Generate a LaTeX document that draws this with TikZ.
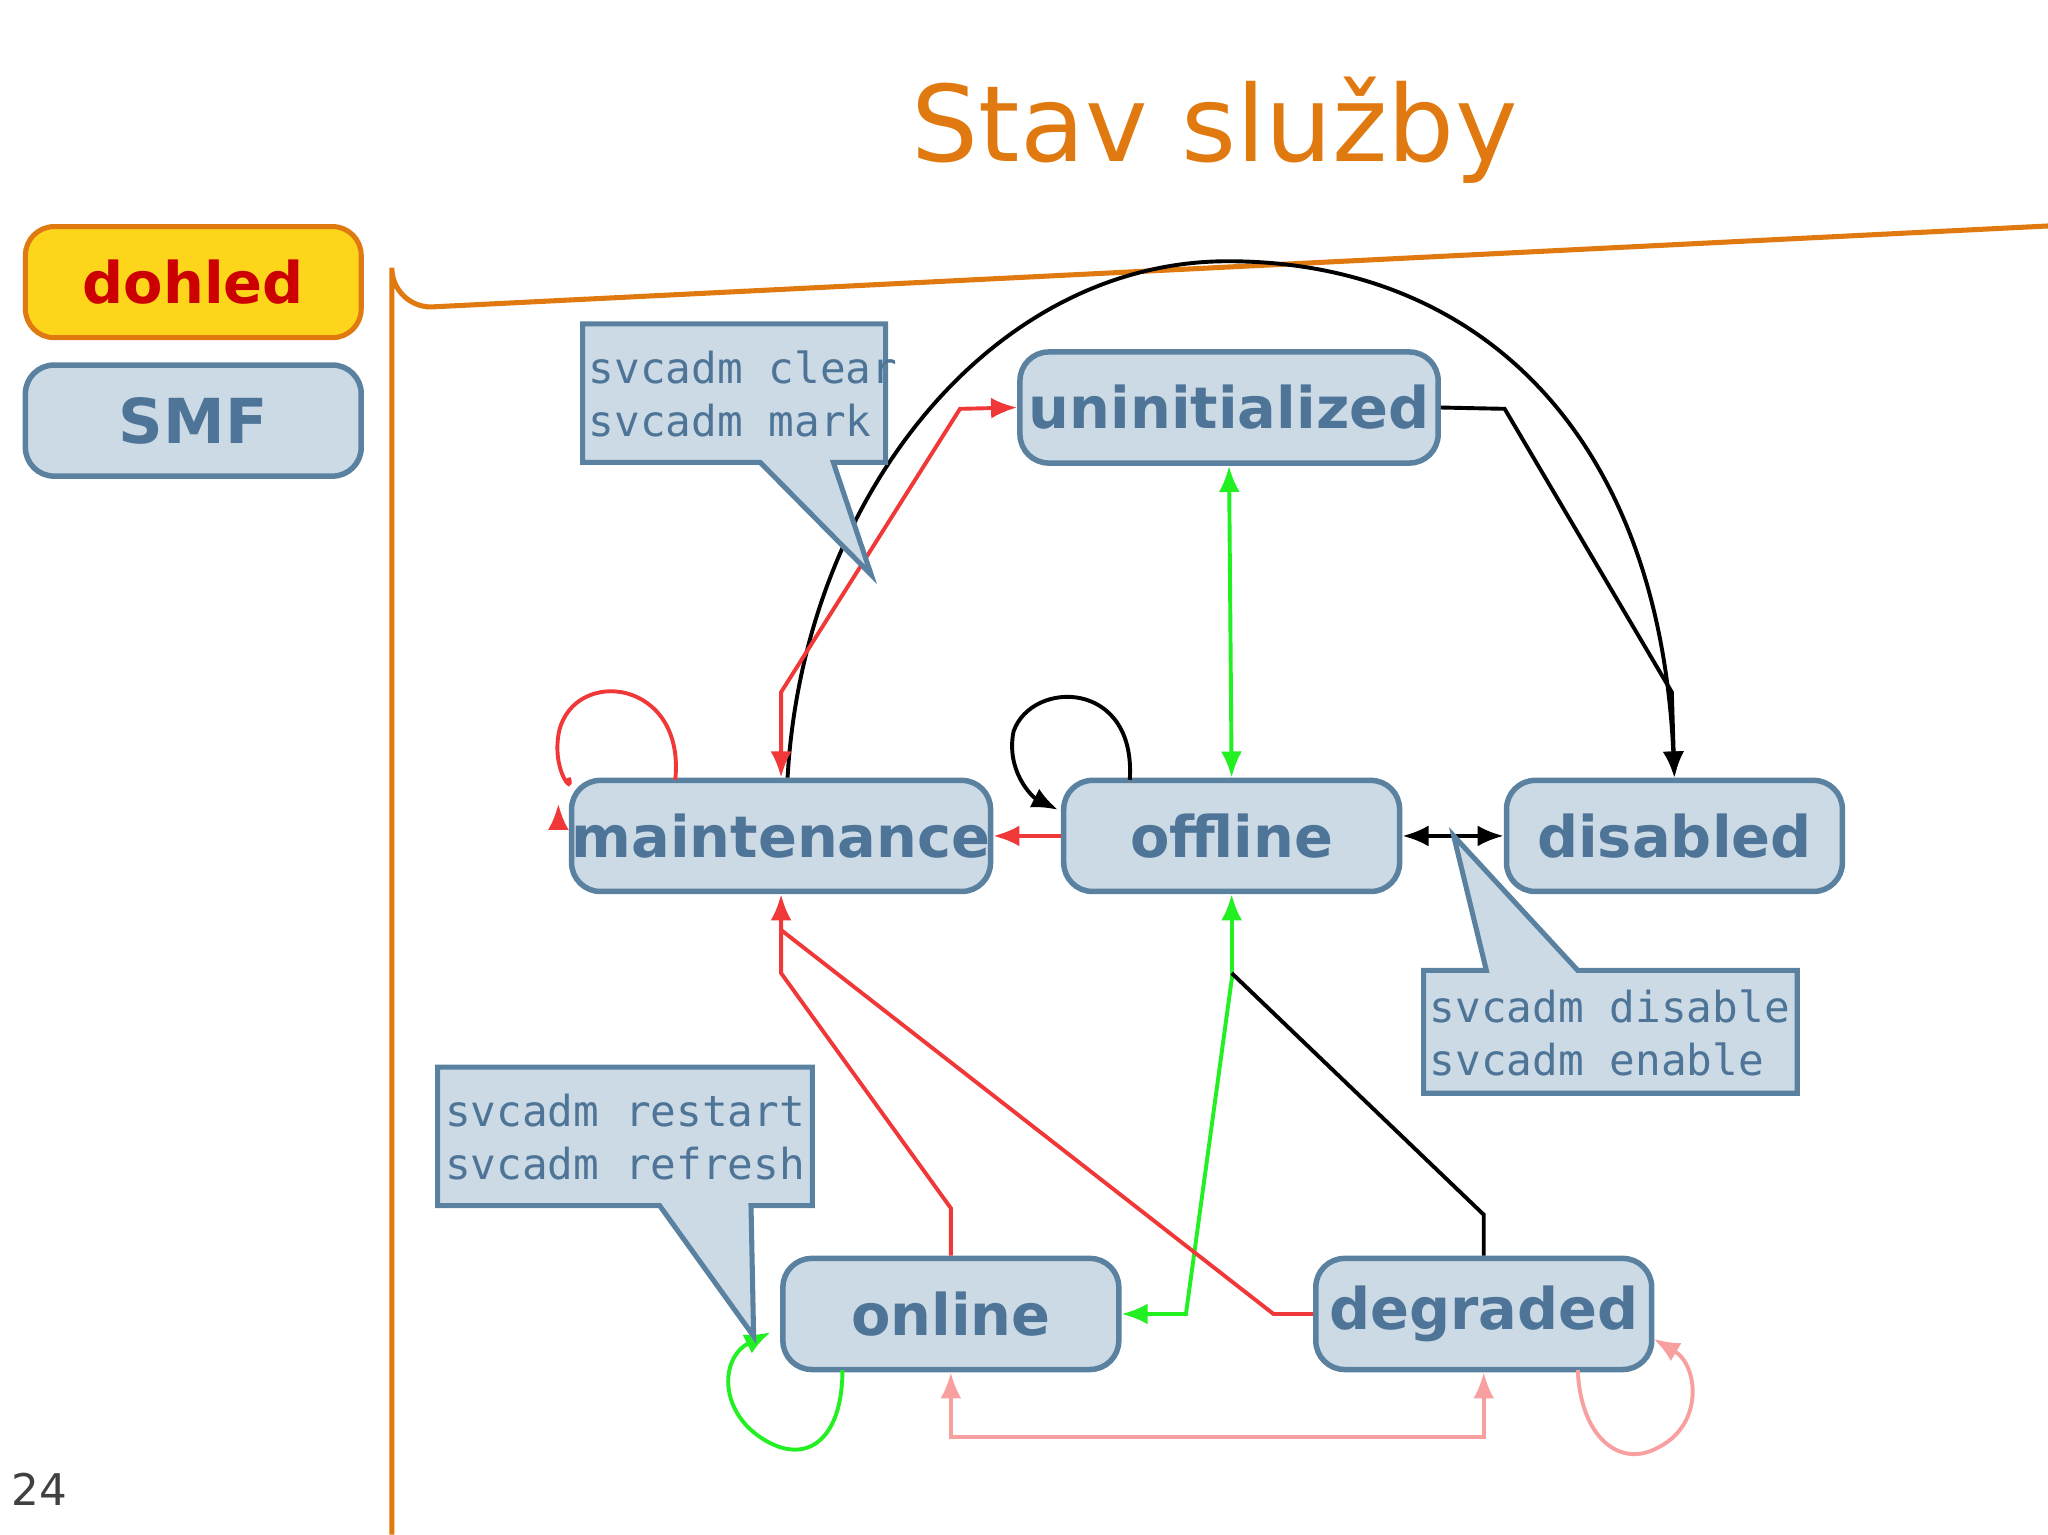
\documentclass[tikz,border=0pt]{standalone}
\usepackage{fontspec}
\setmainfont{DejaVu Sans}
\setmonofont{DejaVu Sans Mono}
\usetikzlibrary{arrows.meta}
\definecolor{fr}{HTML}{E07A10}
\definecolor{nb}{HTML}{5A82A0}
\definecolor{nf}{HTML}{CCDAE5}
\definecolor{nt}{HTML}{4E7597}
\definecolor{rd}{HTML}{F03838}
\definecolor{gr}{HTML}{22F022}
\definecolor{pk}{HTML}{F8A0A0}
\tikzset{
 state/.style={draw=nb,fill=nf,line width=1.2pt,rounded corners=0.22cm,minimum width=2.57cm,minimum height=0.85cm,text=nt,font=\fontsize{12.5}{14}\selectfont\bfseries,inner sep=0pt},
 call/.style={draw=nb,fill=nf,line width=1.1pt},
 ctext/.style={text=nt,font=\ttfamily\fontsize{9.3}{11.5}\selectfont,align=left,anchor=north west,inner sep=0pt},
 ed/.style={line width=0.85pt,-{Latex[length=0.2cm,width=0.16cm]}},
 ed2/.style={line width=0.85pt,{Latex[length=0.2cm,width=0.16cm]}-{Latex[length=0.2cm,width=0.16cm]}},
}
\begin{document}
\begin{tikzpicture}[x=0.01cm,y=-0.01cm]
\useasboundingbox (0,0) rectangle (1568,1175);
\node[text=fr,font=\fontsize{23}{26}\selectfont] (title) at (930,100) {Stav služby};
\draw[fr,line width=1.1pt] (300,1175) -- (300,205) arc[start angle=180,end angle=90,radius=30] -- (1568,173);
\node[draw=fr,fill=yellow!70!orange!90,line width=1.1pt,rounded corners=0.22cm,minimum width=2.57cm,minimum height=0.85cm,text=red!80!black,font=\fontsize{12.5}{14}\selectfont\bfseries] (dohled) at (148,216) {dohled};
\node[state,font=\fontsize{13.5}{15}\selectfont\bfseries] (smf) at (148,322) {SMF};
\node[text=black!75,font=\fontsize{9.5}{11}\selectfont] (pg) at (30,1140) {24};

\node[state,minimum width=3.2cm] (un) at (941,312) {uninitialized};
\node[state] (ma) at (598,640) {maintenance};
\node[state] (of) at (943,640) {offline};
\node[state] (di) at (1282,640) {disabled};
\node[state] (on) at (728,1006) {online};
\node[state] (de) at (1136,1006) {degraded};

% black arc
\draw[ed] (ma.north) ++(5,0) .. controls (615,380) and (760,200) .. (940,200) .. controls (1130,200) and (1270,330) .. (di.north);
\draw[ed] (un.east) -- (1152,313) -- (1280,530) -- (di.north);
\draw[ed2,gr] (un.south) -- (of.north);
\draw[ed2,rd] (ma.north) -- (598,530) -- (735,313) -- (un.west);
\draw[ed,rd] (517,597) .. controls (525,520) and (440,510) .. (428,560) .. controls (422,590) and (440,610) .. (ma.north west) ++(-8,20);
\draw[ed] (865,597) .. controls (870,520) and (790,520) .. (776,560) .. controls (770,590) and (790,610) .. (810,620);
\draw[ed,rd] (of.west) -- (ma.east);
\draw[ed2] (of.east) -- (di.west);
\draw[ed,gr] (943,750) -- (908,1006) -- (on.east);
\draw[ed,gr] (943,750) -- (of.south);
\draw[ed,rd] (on.north) -- (728,925) -- (598,745) -- (ma.south);
\draw[line width=0.85pt,rd] (de.west) -- (975,1006) -- (598,712);
\draw[line width=0.85pt] (de.north) -- (1136,930) -- (943,745);
\draw[ed2,pk] (on.south) -- (728,1100) -- (1136,1100) -- (de.south);
\draw[ed,pk] (1208,1049) .. controls (1210,1100) and (1240,1125) .. (1270,1108) .. controls (1305,1090) and (1300,1045) .. (1266,1025);
\draw[ed,gr] (645,1049) .. controls (645,1100) and (620,1120) .. (590,1105) .. controls (550,1085) and (550,1040) .. (590,1020);

% callouts
\draw[call] (446,248) -- (678,248) -- (678,354) -- (638,354) -- (667,440) -- (582,354) -- (446,354) -- cycle;
\node[ctext] (c1) at (450,268) {svcadm clear\\svcadm mark};
\draw[call] (1090,743) -- (1138,743) -- (1113,640) -- (1208,743) -- (1376,743) -- (1376,837) -- (1090,837) -- cycle;
\node[ctext] (c2) at (1094,757) {svcadm disable\\svcadm enable};
\draw[call] (335,817) -- (622,817) -- (622,923) -- (575,923) -- (577,1023) -- (505,923) -- (335,923) -- cycle;
\node[ctext] (c3) at (340,837) {svcadm restart\\svcadm refresh};
\end{tikzpicture}
\end{document}
